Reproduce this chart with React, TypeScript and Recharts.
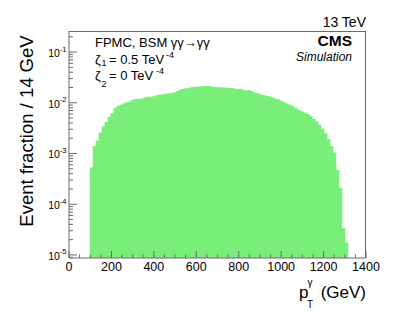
import { AreaChart, Area, XAxis, YAxis } from 'recharts'

const W = 407
const H = 312
// plot frame in page pixels (ROOT-style pad margins)
const PLOT = { left: 69, right: 366, top: 31, bottom: 258 }

const FONT = '"Liberation Sans", Arial, Helvetica, sans-serif'
const GREEN = '#79ee79'
const FRAME = '#6a6a6a'

// histogram: 14 GeV bins starting at 98 GeV
const BIN_START = 98
const BIN_WIDTH = 14
const FRACTION = [
  5.3e-4, 1.4e-3, 1.8e-3, 2.6e-3, 3.4e-3, 4.2e-3, 5.3e-3, 6.2e-3, 8.0e-3, 8.7e-3,
  0.0091, 0.0098, 0.0102, 0.0106, 0.0116, 0.0118, 0.0120, 0.0122, 0.0128, 0.0131,
  0.0132, 0.0134, 0.0140, 0.0145, 0.0146, 0.0150, 0.0153, 0.0156, 0.0162, 0.0170,
  0.0182, 0.0188, 0.0193, 0.0198, 0.0205, 0.0208, 0.0210, 0.0211, 0.0213, 0.0214,
  0.0212, 0.0208, 0.0205, 0.0203, 0.0202, 0.0200, 0.0198, 0.0196, 0.0193, 0.0186,
  0.0188, 0.0182, 0.0175, 0.0178, 0.0170, 0.0160, 0.0156, 0.0148, 0.0143, 0.0138,
  0.0134, 0.0128, 0.0122, 0.0117, 0.0110, 0.0104, 0.0097, 0.0091, 0.0085, 0.0079,
  0.0072, 0.0068, 0.0064, 0.0060, 0.0055, 0.0048, 0.0043, 0.0037, 0.0031, 0.0025,
  0.0019, 0.0014, 0.00105, 4.7e-4, 2.1e-4, 3.4e-5, 1.76e-5,
]

const X_DOMAIN = [0, 1400]
const X_MAJOR = [0, 200, 400, 600, 800, 1000, 1200, 1400]
const X_MINOR_STEP = 50
const Y_MIN = 8.7e-6
const Y_MAX = 0.26
const Y_EXPONENTS = [-5, -4, -3, -2, -1]

// step histogram: one point per bin low edge, plus the closing edge
const data = [
  ...FRACTION.map((v, i) => ({ pt: BIN_START + i * BIN_WIDTH, frac: v })),
  { pt: BIN_START + FRACTION.length * BIN_WIDTH, frac: FRACTION[FRACTION.length - 1] },
]

const xTicks: number[] = []
for (let v = X_DOMAIN[0]; v <= X_DOMAIN[1]; v += X_MINOR_STEP) xTicks.push(v)

const yTicks: number[] = []
for (let e = Y_EXPONENTS[0] - 1; e <= Y_EXPONENTS[Y_EXPONENTS.length - 1]; e++) {
  for (let m = 1; m <= 9; m++) {
    const v = m * Math.pow(10, e)
    if (v >= Y_MIN && v <= Y_MAX) yTicks.push(v)
  }
}

function XTick(props: any) {
  const { x, payload } = props
  const v = payload.value as number
  const major = X_MAJOR.includes(v)
  return (
    <g>
      <line x1={x} x2={x} y1={PLOT.bottom} y2={PLOT.bottom - (major ? 7 : 3.5)} stroke={FRAME} />
      {major && (
        <text x={x} y={PLOT.bottom + 12.5} textAnchor="middle" fontSize={12.5} fontFamily={FONT} fill="#000">
          {v}
        </text>
      )}
    </g>
  )
}

function YTick(props: any) {
  const { y, payload } = props
  const v = payload.value as number
  const lg = Math.log10(v)
  const e = Math.round(lg)
  const major = Math.abs(lg - e) < 1e-6
  return (
    <g>
      <line x1={PLOT.left} x2={PLOT.left + (major ? 8 : 4)} y1={y} y2={y} stroke={FRAME} />
      {major && (
        <text x={PLOT.left - 2.5} y={y + 5} textAnchor="end" fontFamily={FONT} fill="#000">
          <tspan fontSize={10.5}>10</tspan>
          <tspan fontSize={7.5} dy={-5.5}>{`-${-e}`}</tspan>
        </text>
      )}
    </g>
  )
}

export default function App() {
  return (
    <div style={{ position: 'absolute', left: 0, top: 0, width: W, height: H, background: '#fff' }}>
      <AreaChart
        width={W}
        height={H}
        data={data}
        margin={{ top: PLOT.top, right: W - PLOT.right, bottom: 0, left: 0 }}
      >
        <Area
          type="stepAfter"
          dataKey="frac"
          stroke="none"
          fill={GREEN}
          fillOpacity={1}
          baseValue={Y_MIN}
          isAnimationActive={false}
          dot={false}
          activeDot={false}
        />
        <XAxis
          dataKey="pt"
          type="number"
          domain={X_DOMAIN}
          ticks={xTicks}
          interval={0}
          allowDataOverflow
          height={H - PLOT.bottom}
          axisLine={{ stroke: FRAME }}
          tickLine={false}
          tick={<XTick />}
        />
        <YAxis
          type="number"
          scale="log"
          domain={[Y_MIN, Y_MAX]}
          ticks={yTicks}
          interval={0}
          allowDataOverflow
          width={PLOT.left}
          axisLine={{ stroke: FRAME }}
          tickLine={false}
          tick={<YTick />}
        />
      </AreaChart>

      <svg
        width={W}
        height={H}
        style={{ position: 'absolute', left: 0, top: 0, pointerEvents: 'none' }}
        fontFamily={FONT}
      >
        {/* top and right frame edges */}
        <line x1={PLOT.left} x2={PLOT.right} y1={PLOT.top + 0.5} y2={PLOT.top + 0.5} stroke={FRAME} />
        <line x1={PLOT.right - 0.5} x2={PLOT.right - 0.5} y1={PLOT.top} y2={PLOT.bottom} stroke={FRAME} />

        <text x={PLOT.right} y={26.5} textAnchor="end" fontSize={14}>13 TeV</text>
        <text x={352} y={46} textAnchor="end" fontSize={15.5} fontWeight="bold">CMS</text>
        <text x={352} y={60.5} textAnchor="end" fontSize={12} fontStyle="italic">Simulation</text>

        <text x={95} y={47} fontSize={13}>FPMC, BSM γγ→γγ</text>
        <text x={95} y={64} fontSize={13}>ζ</text>
        <text x={101.5} y={66} fontSize={9}>1</text>
        <text x={109} y={64} fontSize={13}>= 0.5 TeV</text>
        <text x={166} y={58} fontSize={9}>-4</text>
        <text x={95} y={80} fontSize={13}>ζ</text>
        <text x={101.5} y={87} fontSize={9}>2</text>
        <text x={109} y={80} fontSize={13}>= 0 TeV</text>
        <text x={156} y={74} fontSize={9}>-4</text>

        <text x={33} y={131} transform="rotate(-90 33 131)" textAnchor="middle" fontSize={18.5}>
          Event fraction / 14 GeV
        </text>

        <text x={299} y={298} fontSize={17}>p</text>
        <text x={307} y={308} fontSize={10}>T</text>
        <text x={307.5} y={286} fontSize={10}>γ</text>
        <text x={PLOT.right} y={298} textAnchor="end" fontSize={17}>(GeV)</text>
      </svg>
    </div>
  )
}
